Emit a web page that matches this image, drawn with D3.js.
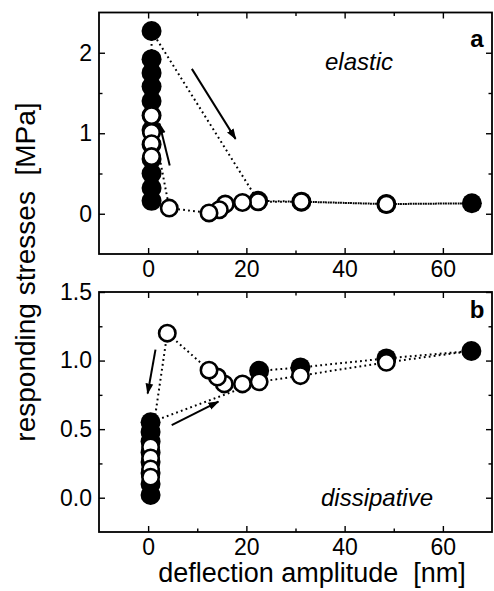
<!DOCTYPE html>
<html>
<head>
<meta charset="utf-8">
<script src="https://cdn.jsdelivr.net/npm/d3@7"></script>
<style>
  html, body { margin: 0; padding: 0; background: #fff; }
  svg { display: block; }
  text { font-family: "Liberation Sans", Arial, sans-serif; fill: #000; }
</style>
</head>
<body>
<svg id="chart" width="494" height="591"></svg>
<script>
// ---------------- DATA ----------------
const xTicks = [0, 20, 40, 60];
const xMinorTicks = [10, 30, 50];
const yTicksA = [0, 1, 2];
const yMinorTicksA = [0.5, 1.5];
const yTicksB = [0, 0.5, 1.0, 1.5];
const yMinorTicksB = [0.25, 0.75, 1.25];

// Panel a (elastic)
const aFilledX = [0.7, 0.7, 0.7, 0.7, 0.7, 0.7, 0.7, 0.7, 0.7, 0.7, 0.7, 0.7, 22.4, 31.2, 48.5, 65.9];
const aFilledY = [0.16, 0.32, 0.50, 0.68, 0.86, 1.04, 1.22, 1.40, 1.58, 1.75, 1.92, 2.27, 0.16, 0.15, 0.12, 0.13];
const aOpenX = [48.5, 31.2, 22.4, 19.2, 15.7, 14.5, 12.4, 4.3, 0.7, 0.7, 0.7, 0.7];
const aOpenY = [0.12, 0.15, 0.15, 0.14, 0.12, 0.05, 0.01, 0.07, 1.22, 1.01, 0.87, 0.71];
// dotted path segments (value pairs) : increasing and decreasing sweeps
const aUpX = [0.7, 0.7, 22.4, 31.2, 48.5, 65.9];
const aUpY = [0.16, 2.27, 0.16, 0.15, 0.12, 0.13];
const aDownX = [65.9, 48.5, 31.2, 22.4, 19.2, 15.7, 14.5, 12.4, 4.3, 0.7, 0.7];
const aDownY = [0.13, 0.12, 0.15, 0.15, 0.14, 0.12, 0.05, 0.01, 0.07, 1.22, 0.71];
// arrows [x1, y1, x2, y2]
const aArrows = [[4.4, 0.60, 2.3, 1.12], [8.9, 1.80, 17.8, 0.93]];

// Panel b (dissipative)
const bFilledX = [0.5, 0.5, 0.5, 0.5, 0.5, 0.5, 0.5, 0.5, 22.6, 31.0, 48.5, 65.8];
const bFilledY = [0.02, 0.10, 0.18, 0.26, 0.33, 0.41, 0.48, 0.55, 0.925, 0.95, 1.016, 1.07];
const bOpenX = [48.5, 31.0, 22.6, 19.2, 15.5, 14.1, 12.4, 3.9, 0.5, 0.5, 0.5, 0.5];
const bOpenY = [0.987, 0.89, 0.845, 0.83, 0.83, 0.88, 0.93, 1.20, 0.37, 0.29, 0.21, 0.15];
const bUpX = [0.5, 0.5, 22.6, 31.0, 48.5, 65.8];
const bUpY = [0.02, 0.55, 0.845, 0.89, 0.987, 1.07];
const bDownX = [65.8, 48.5, 31.0, 22.6, 19.2, 15.5, 14.1, 12.4, 3.9, 0.5];
const bDownY = [1.07, 1.016, 0.95, 0.925, 0.83, 0.83, 0.88, 0.93, 1.20, 0.37];
const bArrows = [[1.5, 1.08, -0.1, 0.76], [4.8, 0.53, 14.3, 0.70]];

const panelLabels = ["a", "b"];
const panelTitles = ["elastic", "dissipative"];
const xTitle = "deflection amplitude  [nm]";
const yTitle = "responding stresses  [MPa]";

// ---------------- DRAW ----------------
const svg = d3.select("#chart");
const left = 99, right = 492;
const x = d3.scaleLinear().domain([-10, 70]).range([left, right]);

svg.append("defs").append("marker")
  .attr("id", "arrow")
  .attr("viewBox", "0 0 10 10")
  .attr("refX", 9).attr("refY", 5)
  .attr("markerWidth", 5.5).attr("markerHeight", 5.5)
  .attr("markerUnits", "strokeWidth")
  .attr("orient", "auto")
  .append("path").attr("d", "M0,1.5 L10,5 L0,8.5 Z").attr("fill", "#000");

const panels = [
  { yDomain: [-0.5, 2.5], top: 12.5, bottom: 254, yt: yTicksA, ym: yMinorTicksA, fmt: d3.format("d"),
    fX: aFilledX, fY: aFilledY, oX: aOpenX, oY: aOpenY, uX: aUpX, uY: aUpY, dX: aDownX, dY: aDownY, arrows: aArrows,
    label: panelLabels[0], title: panelTitles[0], titlePos: [359, 70], labelPos: [477, 47] },
  { yDomain: [-0.25, 1.5], top: 292, bottom: 532, yt: yTicksB, ym: yMinorTicksB, fmt: d3.format(".1f"),
    fX: bFilledX, fY: bFilledY, oX: bOpenX, oY: bOpenY, uX: bUpX, uY: bUpY, dX: bDownX, dY: bDownY, arrows: bArrows,
    label: panelLabels[1], title: panelTitles[1], titlePos: [377, 506], labelPos: [477, 318] }
];

panels.forEach(p => {
  const y = d3.scaleLinear().domain(p.yDomain).range([p.bottom, p.top]);
  const g = svg.append("g");

  // axes: inward ticks on all four sides
  const mk = (axis, scale, vals, size, labels, tr) => {
    const a = axis(scale).tickValues(vals).tickSize(-size).tickPadding(labels ? 7 : 0);
    if (!labels) a.tickFormat("");
    else a.tickFormat(scale === x ? d3.format("d") : p.fmt);
    const ax = g.append("g").attr("transform", tr).call(a);
    ax.select(".domain").remove();
    ax.selectAll("line").attr("stroke", "#000").attr("stroke-width", 1.4);
    ax.selectAll("text").style("font-size", "23px").attr("fill", "#000");
    return ax;
  };
  mk(d3.axisBottom, x, xTicks, 6, true, `translate(0,${p.bottom})`);
  mk(d3.axisBottom, x, xMinorTicks, 3.5, false, `translate(0,${p.bottom})`);
  mk(d3.axisTop, x, xTicks, 6, false, `translate(0,${p.top})`);
  mk(d3.axisTop, x, xMinorTicks, 3.5, false, `translate(0,${p.top})`);
  mk(d3.axisLeft, y, p.yt, 6, true, `translate(${left},0)`);
  mk(d3.axisLeft, y, p.ym, 3.5, false, `translate(${left},0)`);
  mk(d3.axisRight, y, p.yt, 6, false, `translate(${right},0)`);
  mk(d3.axisRight, y, p.ym, 3.5, false, `translate(${right},0)`);

  g.append("rect")
    .attr("x", left).attr("y", p.top)
    .attr("width", right - left).attr("height", p.bottom - p.top)
    .attr("fill", "none").attr("stroke", "#000").attr("stroke-width", 1.8);

  // dotted connecting lines
  const line = d3.line().x(d => x(d[0])).y(d => y(d[1]));
  [[p.uX, p.uY], [p.dX, p.dY]].forEach(([xs, ys]) => {
    g.append("path")
      .datum(xs.map((v, i) => [v, ys[i]]))
      .attr("d", line)
      .attr("fill", "none").attr("stroke", "#000")
      .attr("stroke-width", 2).attr("stroke-dasharray", "1.8,3.2");
  });

  // arrows
  p.arrows.forEach(a => {
    g.append("line")
      .attr("x1", x(a[0])).attr("y1", y(a[1]))
      .attr("x2", x(a[2])).attr("y2", y(a[3]))
      .attr("stroke", "#000").attr("stroke-width", 2)
      .attr("marker-end", "url(#arrow)");
  });

  // filled markers
  g.selectAll("circle.f").data(p.fX.map((v, i) => [v, p.fY[i]])).enter()
    .append("circle").attr("class", "f")
    .attr("cx", d => x(d[0])).attr("cy", d => y(d[1])).attr("r", 10)
    .attr("fill", "#000");
  // open markers
  g.selectAll("circle.o").data(p.oX.map((v, i) => [v, p.oY[i]])).enter()
    .append("circle").attr("class", "o")
    .attr("cx", d => x(d[0])).attr("cy", d => y(d[1])).attr("r", 8.2)
    .attr("fill", "#fff").attr("stroke", "#000").attr("stroke-width", 2.6);

  g.append("text").attr("x", p.titlePos[0]).attr("y", p.titlePos[1])
    .attr("text-anchor", "middle").style("font-size", "24px").style("font-style", "italic")
    .text(p.title);
  g.append("text").attr("x", p.labelPos[0]).attr("y", p.labelPos[1])
    .attr("text-anchor", "middle").style("font-size", "24px").style("font-weight", "bold")
    .text(p.label);
});

svg.append("text")
  .attr("x", 312).attr("y", 582)
  .attr("text-anchor", "middle").style("font-size", "27px").style("white-space", "pre")
  .text(xTitle);
svg.append("text")
  .attr("transform", "translate(35,272) rotate(-90)")
  .attr("text-anchor", "middle").style("font-size", "28px").style("white-space", "pre")
  .text(yTitle);
</script>
</body>
</html>
